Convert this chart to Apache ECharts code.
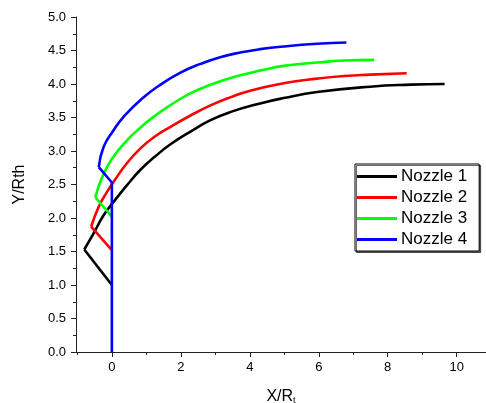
<!DOCTYPE html>
<html>
<head>
<meta charset="utf-8">
<script src="https://cdn.jsdelivr.net/npm/echarts@6/dist/echarts.min.js"></script>
<style>html,body{margin:0;padding:0;background:#fff;}#c{width:486px;height:403px;}</style>
</head>
<body>
<div id="c"></div>
<script>
const seriesNames = ['Nozzle 1', 'Nozzle 2', 'Nozzle 3', 'Nozzle 4'];
const colors = ['#000000', '#ff0000', '#00ff00', '#0000ff'];
const xMajorTicks = [0, 2, 4, 6, 8, 10];
const xMinorTicks = [-1, 1, 3, 5, 7, 9];

// straight inlet segments (start -> vertex)
const seg1 = [[0, 1.0], [-0.8, 1.53]];
const seg2 = [[0, 1.52], [-0.6, 1.87]];
const seg3 = [[0, 2.02], [-0.48, 2.31]];
const seg4 = [[0, 0], [0, 2.53], [-0.38, 2.76]];

// curved parts (vertex -> end)
const curve1 = [[-0.8, 1.53], [-0.53, 1.77], [-0.24, 2.04], [0.05, 2.24], [0.44, 2.49], [0.83, 2.72], [1.26, 2.92], [1.7, 3.1], [2.28, 3.29], [2.86, 3.46], [3.43, 3.58], [4.3, 3.71], [4.98, 3.79], [5.95, 3.88], [7.49, 3.96], [8.67, 3.99], [9.65, 4.0]];
const curve2 = [[-0.6, 1.87], [-0.38, 2.17], [-0.14, 2.39], [0.05, 2.54], [0.44, 2.82], [0.83, 3.04], [1.26, 3.22], [1.7, 3.36], [2.28, 3.53], [2.86, 3.68], [3.43, 3.8], [4.01, 3.9], [4.98, 4.01], [5.95, 4.08], [6.73, 4.12], [7.49, 4.14], [8.55, 4.16]];
const curve3 = [[-0.48, 2.31], [-0.28, 2.61], [0.0, 2.88], [0.44, 3.16], [0.83, 3.35], [1.21, 3.51], [1.99, 3.78], [2.57, 3.93], [3.14, 4.04], [3.72, 4.13], [4.3, 4.2], [4.98, 4.27], [5.95, 4.32], [6.73, 4.35], [7.6, 4.36]];
const curve4 = [[-0.38, 2.76], [-0.24, 3.06], [0.05, 3.31], [0.34, 3.51], [0.87, 3.78], [1.41, 3.99], [1.99, 4.17], [2.57, 4.3], [3.14, 4.4], [3.72, 4.47], [4.3, 4.52], [4.98, 4.56], [5.95, 4.6], [6.8, 4.62]];

const segs = [seg1, seg2, seg3, seg4];
const curves = [curve1, curve2, curve3, curve4];

const font = 'Liberation Sans, Arial, Helvetica, sans-serif';
const axisColor = '#222';

const series = [];
for (let i = 0; i < 4; i++) {
  series.push({
    name: seriesNames[i], type: 'line', data: segs[i], symbol: 'none', smooth: false,
    lineStyle: {color: colors[i], width: 2.6}, itemStyle: {color: colors[i]}, z: 2 + i
  });
  series.push({
    name: seriesNames[i], type: 'line', data: curves[i], symbol: 'none', smooth: 0.5,
    lineStyle: {color: colors[i], width: 2.6}, itemStyle: {color: colors[i]}, z: 2 + i
  });
}

const chart = echarts.init(document.getElementById('c'), null, {renderer: 'canvas'});
chart.setOption({
  animation: false,
  backgroundColor: '#fff',
  textStyle: {fontFamily: font},
  grid: {left: 76, right: 0, top: 17, bottom: 51, containLabel: false, outerBoundsMode: 'none'},
  legend: {
    data: seriesNames,
    orient: 'vertical',
    left: 355, top: 164,
    padding: [4, 12, 3, 2],
    icon: 'rect',
    itemWidth: 40, itemHeight: 3, itemGap: 4,
    borderColor: '#000', borderWidth: 1,
    backgroundColor: '#fff',
    shadowColor: 'rgba(0,0,0,0.6)', shadowOffsetX: 1.5, shadowOffsetY: 1.5, shadowBlur: 0,
    textStyle: {fontSize: 17, color: '#000', fontFamily: font, padding: [0, 0, 0, -1]}
  },
  xAxis: [{
    type: 'value', min: -1.04, max: 10.85, position: 'bottom',
    name: 'X/R{sub|t}', nameLocation: 'middle', nameGap: 36,
    nameTextStyle: {fontSize: 16, color: '#000', fontFamily: font,
      rich: {sub: {fontSize: 9, verticalAlign: 'bottom', padding: [8, 0, 0, 0], color: '#000', fontFamily: font}}},
    axisLine: {show: true, onZero: false, lineStyle: {color: axisColor, width: 1}},
    axisTick: {show: true, inside: false, length: 5, customValues: xMajorTicks, lineStyle: {color: axisColor}},
    axisLabel: {show: true, customValues: xMajorTicks, margin: 9, fontSize: 13, color: '#000', fontFamily: font},
    splitLine: {show: false}
  }, {
    type: 'value', min: -1.04, max: 10.85, position: 'bottom', offset: 0,
    axisLine: {show: false, onZero: false},
    axisTick: {show: true, inside: false, length: 3, customValues: xMinorTicks, lineStyle: {color: axisColor}},
    axisLabel: {show: false},
    splitLine: {show: false}
  }],
  yAxis: {
    type: 'value', min: 0, max: 5, interval: 0.5,
    name: 'Y/Rth', nameLocation: 'middle', nameGap: 48, nameRotate: 90,
    nameTextStyle: {fontSize: 16, color: '#000', fontFamily: font},
    axisLine: {show: true, onZero: false, lineStyle: {color: axisColor, width: 1}},
    axisTick: {show: true, inside: false, length: 5, lineStyle: {color: axisColor}},
    minorTick: {show: true, splitNumber: 2, length: 3, lineStyle: {color: axisColor}},
    axisLabel: {margin: 10, fontSize: 13, color: '#000', fontFamily: font, formatter: v => v.toFixed(1)},
    splitLine: {show: false}, minorSplitLine: {show: false}
  },
  series: series
});
</script>
</body>
</html>
